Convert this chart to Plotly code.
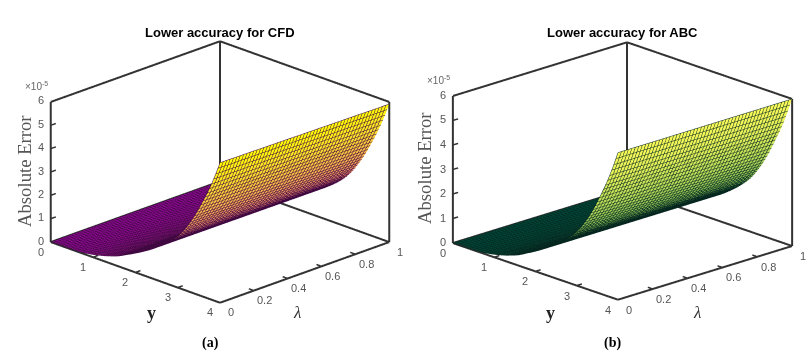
import numpy as np
import plotly.graph_objects as go

Y = [round(i * 0.1, 1) for i in range(41)]
Z_PROFILE = [0, 0, .001, .003, .007, .014, .024, .038, .058, .083, .115, .155, .20, .25, .31, .37, .44, .53, .63, .72,
             .82, .92, 1.03, 1.14, 1.26, 1.39, 1.53, 1.67, 1.83, 2.0, 2.2, 2.43, 2.7, 3.0, 3.33, 3.7, 4.1, 4.5,
             4.95, 5.45, 6.0]
LAM = [0, .1, .2, .3, .4, .5, .6, .7, .8, .9, 1]
SCALE_A = [1, .998, .997, .995, .994, .992, .991, .989, .988, .986, .985]
SCALE_B = [1, 1, 1, 1, 1, 1, 1, 1, 1, 1, 1]
Y_TICKS = [0, 1, 2, 3, 4]
LAM_TICKS = [0, .2, .4, .6, .8, 1]
LAM_LABELS = ["0", "0.2", "0.4", "0.6", "0.8", "1"]
Z_TICKS = [0, 1, 2, 3, 4, 5, 6]
TITLE_A = "Lower accuracy for CFD"
TITLE_B = "Lower accuracy for ABC"

CS_A = [[0, "#9a0aa0"], [.12, "#b83090"], [.3, "#e87078"], [.55, "#f8b050"], [.8, "#fce428"], [1, "#ffff00"]]
CS_B = [[0, "#005040"], [.12, "#2c784c"], [.3, "#6cac50"], [.55, "#b4d858"], [.8, "#e4ee58"], [1, "#fafa58"]]
MESH_A = "#400840"
MESH_B = "#04261e"

W, H = 809, 354
fig = go.Figure()


def add_panel(scene, scale, cs, mesh):
    z = np.outer(scale, Z_PROFILE)
    fig.add_trace(go.Surface(
        x=Y, y=LAM, z=z, scene=scene, colorscale=cs, cmin=0, cmax=6, showscale=False,
        lighting=dict(ambient=1, diffuse=0, specular=0, roughness=1, fresnel=0),
        contours=dict(
            x=dict(show=True, start=0, end=4, size=.05, color=mesh, width=1),
            y=dict(show=True, start=0, end=1, size=.02, color=mesh, width=1),
        ),
        hoverinfo="skip",
    ))
    xs, ys, zs = [], [], []

    def seg(a, b):
        xs.extend([a[0], b[0], None]); ys.extend([a[1], b[1], None]); zs.extend([a[2], b[2], None])
    xa, xb = Y_TICKS[0], Y_TICKS[-1]
    ya, yb = LAM_TICKS[0], LAM_TICKS[-1]
    za, zb = Z_TICKS[0], Z_TICKS[-1]
    seg((xa, ya, za), (xb, ya, za)); seg((xb, ya, za), (xb, yb, za))
    seg((xb, yb, za), (xa, yb, za)); seg((xa, yb, za), (xa, ya, za))
    seg((xa, ya, za), (xa, ya, zb)); seg((xa, yb, za), (xa, yb, zb)); seg((xb, yb, za), (xb, yb, zb))
    seg((xa, ya, zb), (xa, yb, zb)); seg((xa, yb, zb), (xb, yb, zb))
    fig.add_trace(go.Scatter3d(x=xs, y=ys, z=zs, mode="lines", scene=scene, showlegend=False,
                               line=dict(color="#333333", width=4), hoverinfo="skip"))
    xs, ys, zs = [], [], []
    for t in Y_TICKS[1:-1]:
        seg((t, ya, za), (t, ya + .03, za))
    for t in LAM_TICKS[1:-1]:
        seg((xb, t, za), (xb - .12, t, za))
    for t in Z_TICKS[1:-1]:
        seg((xa, ya, t), (xa, ya + .03, t))
    fig.add_trace(go.Scatter3d(x=xs, y=ys, z=zs, mode="lines", scene=scene, showlegend=False,
                               line=dict(color="#333333", width=3), hoverinfo="skip"))


add_panel("scene", SCALE_A, CS_A, MESH_A)
add_panel("scene2", SCALE_B, CS_B, MESH_B)


def axis(rng, ticks):
    return dict(range=rng, title=dict(text=""), showticklabels=False, tickvals=ticks,
                showgrid=False, zeroline=False, showline=False, showbackground=False, showspikes=False,
                ticks="", autorange=False)


def tick_notes():
    out = []
    style = dict(showarrow=False, font=dict(family="Liberation Sans", size=11, color="#555555"))
    for t in Y_TICKS:
        out.append(dict(x=t, y=0, z=0, text=str(t), xshift=-10, yshift=-10, **style))
    for t, s in zip(LAM_TICKS, LAM_LABELS):
        out.append(dict(x=4, y=t, z=0, text=s, xshift=11, yshift=-10, **style))
    for t in Z_TICKS:
        out.append(dict(x=0, y=0, z=t, text=str(t), xshift=-10, yshift=1, **style))
    return out


def scene(dom_x, dom_y, eye, ratio, s):
    return dict(
        domain=dict(x=[dom_x[0] / W, dom_x[1] / W], y=[1 - dom_y[1] / H, 1 - dom_y[0] / H]),
        xaxis=axis([0, 4], Y_TICKS), yaxis=axis([0, 1], LAM_TICKS), zaxis=axis([0, 6], Z_TICKS),
        aspectmode="manual", aspectratio=dict(x=s, y=s, z=ratio * s),
        annotations=tick_notes(),
        camera=dict(eye=eye, center=dict(x=0, y=0, z=0), up=dict(x=0, y=0, z=1),
                    projection=dict(type="orthographic")),
    )


k = 1.6
fig.update_layout(
    width=W, height=H, margin=dict(l=0, r=0, t=0, b=0), paper_bgcolor="white", showlegend=False,
    scene=scene((20, 420), (11.5, 331.5), dict(x=.707 * k, y=-.707 * k, z=.384 * k), .627, 1.496),
    scene2=scene((436, 809), (11, 331), dict(x=.726 * k, y=-.688 * k, z=.344 * k), .648, 1.5),
)


def note(x, y, text, size, family, color="#000000", angle=0, **kw):
    fig.add_annotation(x=x / W, y=1 - y / H, xref="paper", yref="paper", text=text, showarrow=False,
                       font=dict(size=size, family=family, color=color), textangle=angle,
                       xanchor="center", yanchor="middle", **kw)


SANS, SERIF = "Liberation Sans", "Liberation Serif"
note(220, 33, f"<b>{TITLE_A}</b>", 13, SANS)
note(622, 33, f"<b>{TITLE_B}</b>", 13, SANS)
note(211, 343, "<b>(a)</b>", 14, SERIF)
note(612, 343, "<b>(b)</b>", 14, SERIF)
note(24, 171, "Absolute Error", 18.7, SERIF, "#555555", -90)
note(424, 168, "Absolute Error", 18.7, SERIF, "#555555", -90)
note(151, 313, "<b>y</b>", 18, SERIF, "#222222")
note(550, 313, "<b>y</b>", 18, SERIF, "#222222")
note(297, 312, "<i>λ</i>", 17, SERIF, "#333333")
note(697, 312, "<i>λ</i>", 17, SERIF, "#333333")
note(36, 86, "×10<sup>-5</sup>", 10, SANS, "#666666")
note(438, 80, "×10<sup>-5</sup>", 10, SANS, "#666666")

fig.write_html("out.html", config=dict(displayModeBar=False), post_script="document.body.style.margin='0';")
